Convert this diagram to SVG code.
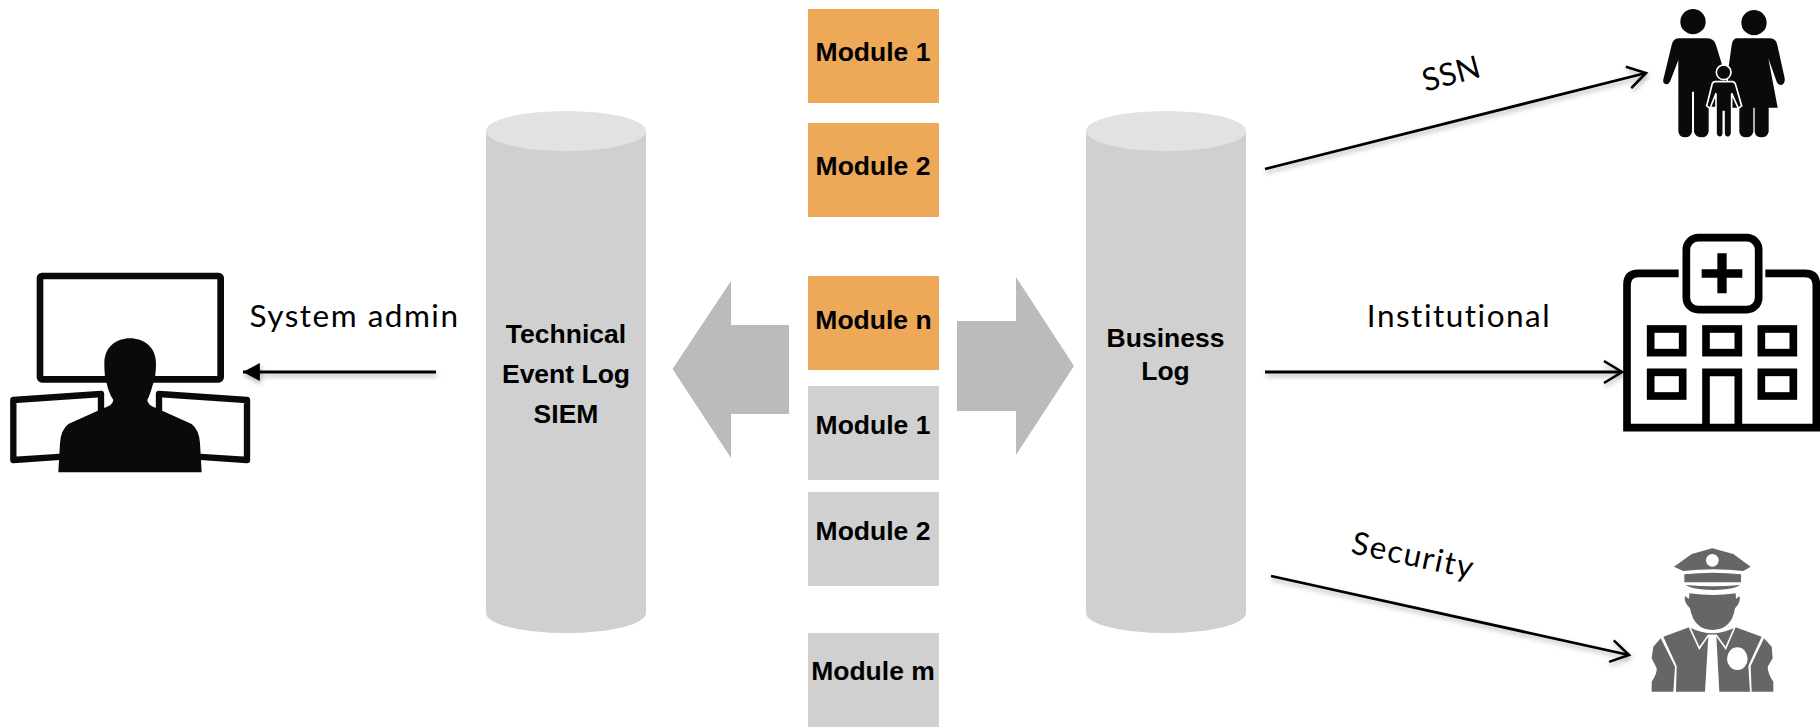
<svg xmlns="http://www.w3.org/2000/svg" width="1820" height="727" viewBox="0 0 1820 727">
<style>
.mt{font-family:"Liberation Sans",Arial,sans-serif;font-weight:700;font-size:26.5px;fill:#000;text-anchor:middle}
.lb{font-family:Lato,"Open Sans",sans-serif;font-size:31.5px;letter-spacing:1.5px;fill:#000;text-anchor:middle}
.or{fill:#EDA858}.gr{fill:#D0D0D0}.top{fill:#E2E2E2}.big{fill:#BBBBBB}
.ln{fill:none;stroke:#000;stroke-width:2.8}
.k{fill:#0a0a0a}.w{fill:#fff}
.hs{fill:none;stroke:#000;stroke-width:23}
.cop{fill:#666}.cw{fill:none;stroke:#fff;stroke-width:5}
</style>
<defs>
<marker id="open" markerUnits="userSpaceOnUse" markerWidth="26" markerHeight="30" refX="20" refY="13" orient="auto" viewBox="0 0 26 26">
<path d="M2,2 L20,13 L2,24" fill="none" stroke="#000" stroke-width="2.6"/>
</marker>
<marker id="solid" markerUnits="userSpaceOnUse" markerWidth="18" markerHeight="18" refX="15" refY="8" orient="auto" viewBox="0 0 16 16">
<path d="M0,0 L15,8 L0,16 Z" fill="#000"/>
</marker>
<filter id="sh" filterUnits="userSpaceOnUse" x="0" y="0" width="1820" height="727">
<feDropShadow dx="1" dy="3" stdDeviation="2.5" flood-color="#000" flood-opacity=".3"/>
</filter>
</defs>
<rect width="1820" height="727" fill="#fff"/>

<g id="connectors">
<line class="ln" x1="436" y1="372" x2="243" y2="372" marker-end="url(#solid)" filter="url(#sh)"/>
<line class="ln" x1="1265" y1="169" x2="1646" y2="73" marker-end="url(#open)" filter="url(#sh)"/>
<line class="ln" x1="1265" y1="372" x2="1622" y2="372" marker-end="url(#open)" filter="url(#sh)"/>
<line class="ln" x1="1271" y1="576" x2="1629" y2="655" marker-end="url(#open)" filter="url(#sh)"/>
<path id="arrow-left" class="big" d="M672.5,369 L731,281 V325 H789 V414 H731 V458 Z"/>
<path id="arrow-right" class="big" d="M1074,366 L1016,277 V321 H957 V411 H1016 V455 Z"/>
</g>

<g id="cyl-technical">
<path class="gr" d="M486,131 V613 A80,20 0 0 0 646,613 V131 Z"/>
<ellipse class="top" cx="566" cy="131" rx="80" ry="20"/>
<text class="mt" x="566" y="343">Technical</text>
<text class="mt" x="566" y="383">Event Log</text>
<text class="mt" x="566" y="423">SIEM</text>
</g>
<g id="cyl-business">
<path class="gr" d="M1086,131 V613 A80,20 0 0 0 1246,613 V131 Z"/>
<ellipse class="top" cx="1166" cy="131" rx="80" ry="20"/>
<text class="mt" x="1165.5" y="347">Business</text>
<text class="mt" x="1165.5" y="380">Log</text>
</g>

<g id="module-o1"><rect class="or" x="808" y="9" width="131" height="94"/><text class="mt" x="873" y="61">Module 1</text></g>
<g id="module-o2"><rect class="or" x="808" y="123" width="131" height="94"/><text class="mt" x="873" y="175">Module 2</text></g>
<g id="module-on"><rect class="or" x="808" y="276" width="131" height="94"/><text class="mt" x="873.5" y="329">Module n</text></g>
<g id="module-g1"><rect class="gr" x="808" y="386" width="131" height="94"/><text class="mt" x="873" y="434">Module 1</text></g>
<g id="module-g2"><rect class="gr" x="808" y="492" width="131" height="94"/><text class="mt" x="873" y="540">Module 2</text></g>
<g id="module-gm"><rect class="gr" x="808" y="633" width="131" height="94"/><text class="mt" x="873" y="680">Module m</text></g>

<g id="label-admin"><text class="lb" x="354.5" y="327">System admin</text></g>
<g id="label-ssn"><text class="lb" style="letter-spacing:.3px" transform="translate(1454 84) rotate(-15)" x="0" y="0">SSN</text></g>
<g id="label-institutional"><text class="lb" x="1459" y="327">Institutional</text></g>
<g id="label-security"><text class="lb" transform="translate(1411 566) rotate(12)" x="0" y="0">Security</text></g>

<g id="admin-icon" transform="translate(0 230) scale(.33333)">
<rect x="120" y="138" width="542" height="310" rx="6" fill="none" stroke="#0a0a0a" stroke-width="20"/>
<path d="M190,680 L40,690 V510 L303,492 V560" fill="none" stroke="#0a0a0a" stroke-width="19" stroke-linejoin="round"/>
<path d="M477,560 V492 L741,510 V690 L590,680" fill="none" stroke="#0a0a0a" stroke-width="19" stroke-linejoin="round"/>
<path class="k" d="M175,727 L180,640 Q182,600 205,582 L310,535 Q340,525 340,510 Q326,490 320,460 Q313,445 313,400 C313,350 350,325 390,325 C430,325 468,350 468,400 Q468,445 458,465 Q450,495 442,510 Q442,525 470,535 L575,582 Q598,600 600,640 L605,727 Z"/>
</g>

<g id="family-icon" transform="translate(1620 0) scale(.33333)">
<circle class="k" cx="219" cy="65" r="38"/>
<circle class="k" cx="402" cy="68" r="38"/>
<path class="k" d="M175,115 H262 Q282,115 288,135 L320,240 L300,320 H266 V395 Q262,412 246,412 Q226,412 222,395 V275 H216 V395 Q212,412 196,412 Q178,412 175,395 V180 L150,245 Q142,258 132,250 Q127,244 132,230 L155,135 Q160,115 175,115 Z"/>
<path class="k" d="M348,115 H450 Q468,115 472,135 L494,235 Q496,250 484,255 Q474,255 470,245 L445,175 L473,323 H446 V395 Q442,412 425,412 Q406,412 404,395 V323 H400 V395 Q396,412 379,412 Q360,412 358,395 V323 H320 L326,200 L335,135 Q338,118 348,115 Z"/>
<circle class="k" cx="311" cy="217" r="22" stroke="#fff" stroke-width="5"/>
<path class="k" stroke="#fff" stroke-width="5" d="M285,245 H337 Q345,245 348,258 L365,318 L355,325 L335,280 V400 Q332,412 322,412 Q314,412 312,400 V335 H310 V400 Q308,412 300,412 Q290,412 288,400 V280 L270,325 L260,318 L275,258 Q277,245 285,245 Z"/>
</g>

<g id="hospital-icon" transform="translate(1600 220) scale(.33333)">
<rect class="hs" x="259" y="53" width="217" height="216" rx="36"/>
<path d="M352,100 H380 V148 H427 V173 H380 V220 H352 V173 H305 V148 H352 Z" fill="#000"/>
<path class="hs" d="M236,160 H115 Q81,160 81,194 V623 H649 V194 Q649,160 615,160 H496"/>
<rect class="hs" x="152" y="327" width="96" height="71"/>
<rect class="hs" x="318" y="327" width="97" height="71"/>
<rect class="hs" x="484" y="327" width="96" height="71"/>
<rect class="hs" x="152" y="457" width="96" height="71"/>
<path class="hs" d="M318,620 V457 H415 V620"/>
<rect class="hs" x="484" y="457" width="96" height="71"/>
</g>

<g id="security-icon" transform="translate(1620 530) scale(.33333)">
<path class="cop" d="M162,110 L215,72 L277,55 L340,72 L392,110 L370,123 Q280,112 190,123 Z"/>
<circle class="w" cx="277" cy="91" r="19"/>
<path class="cop" d="M193,133 Q280,124 363,133 V157 H193 Z"/>
<path class="cop" d="M197,165 Q280,172 360,165 Q345,178 280,180 Q215,178 197,165 Z"/>
<path class="cop" d="M208,190 Q280,200 347,190 L348,207 L358,198 Q364,215 345,235 Q335,300 277,300 Q222,300 210,235 Q190,215 195,198 L207,207 Z"/>
<path class="cop" d="M122,325 L165,410 L160,485 H95 V455 Q112,430 110,415 L95,385 L100,350 Z"/>
<path class="cop" d="M130,320 L207,292 Q245,310 277,310 Q310,310 347,292 L425,320 L385,408 L390,485 H298 L289,318 H265 L255,485 H168 L170,408 Z"/>
<path class="cop" d="M432,325 L392,408 L395,485 H460 V455 Q443,430 443,410 L458,385 L455,350 Z"/>
<path class="cw" d="M207,288 L238,355 L265,316 H289 L317,355 L346,288"/>
<ellipse class="w" cx="352" cy="386" rx="31" ry="34"/>
</g>
</svg>
